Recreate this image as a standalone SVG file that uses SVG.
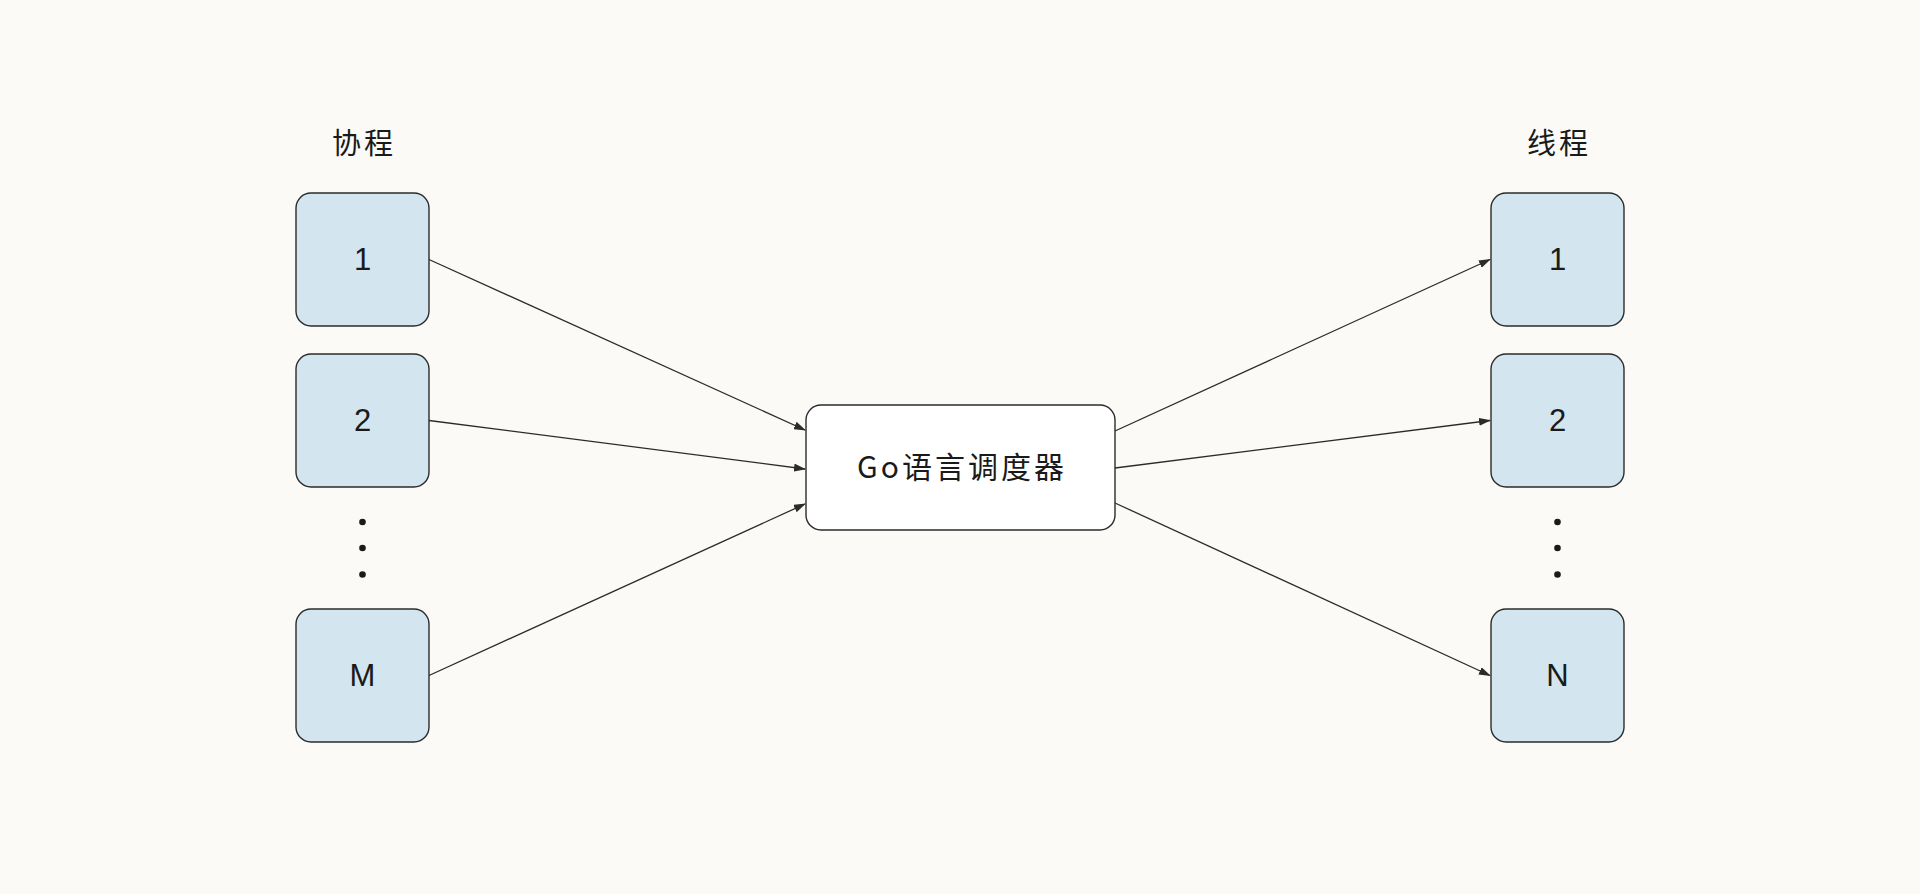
<svg xmlns="http://www.w3.org/2000/svg" width="1920" height="894" viewBox="0 0 1920 894">
  <style>
    .box { fill: #d3e5ee; stroke: #2b2b2b; stroke-width: 1.4; }
    .center { fill: #ffffff; stroke: #2b2b2b; stroke-width: 1.4; }
    .lbl { font-family: "Liberation Sans", "Noto Sans CJK SC", sans-serif; font-size: 31px; fill: #1a1a1a; text-anchor: middle; }
    .cjk { font-family: "Noto Sans CJK SC", "Liberation Sans", sans-serif; font-size: 29px; fill: #1a1a1a; text-anchor: middle; letter-spacing: 3px; }
    .dot { fill: #1a1a1a; }
    .edge { stroke: #2b2b2b; stroke-width: 1.3; fill: none; marker-end: url(#arrow); }
  </style>
  <defs>
    <marker id="arrow" markerWidth="12" markerHeight="8" refX="11" refY="4" orient="auto" markerUnits="userSpaceOnUse">
      <path d="M0,0 L12,4 L0,8 Z" fill="#2b2b2b"/>
    </marker>
  </defs>
  <rect width="1920" height="894" fill="#fbfaf7"/>

  <g id="title-left"><text class="cjk" x="364" y="154">协程</text></g>
  <g id="title-right"><text class="cjk" x="1559" y="154">线程</text></g>

  <g id="g1"><rect class="box" x="296" y="193" width="133" height="133" rx="15"/><text class="lbl" x="362.5" y="270">1</text></g>
  <g id="g2"><rect class="box" x="296" y="354" width="133" height="133" rx="15"/><text class="lbl" x="362.5" y="431">2</text></g>
  <g id="gdots"><circle class="dot" cx="362.5" cy="522" r="3.3"/><circle class="dot" cx="362.5" cy="548" r="3.3"/><circle class="dot" cx="362.5" cy="574.5" r="3.3"/></g>
  <g id="gM"><rect class="box" x="296" y="609" width="133" height="133" rx="15"/><text class="lbl" x="362.5" y="686">M</text></g>

  <g id="sched"><rect class="center" x="806" y="405" width="309" height="125" rx="15"/><text class="cjk" x="962" y="478" style="font-size:30px">Go语言调度器</text></g>

  <g id="t1"><rect class="box" x="1491" y="193" width="133" height="133" rx="15"/><text class="lbl" x="1557.5" y="270">1</text></g>
  <g id="t2"><rect class="box" x="1491" y="354" width="133" height="133" rx="15"/><text class="lbl" x="1557.5" y="431">2</text></g>
  <g id="tdots"><circle class="dot" cx="1557.5" cy="522" r="3.3"/><circle class="dot" cx="1557.5" cy="548" r="3.3"/><circle class="dot" cx="1557.5" cy="574.5" r="3.3"/></g>
  <g id="tN"><rect class="box" x="1491" y="609" width="133" height="133" rx="15"/><text class="lbl" x="1557.5" y="686">N</text></g>

  <g id="connectors">
    <line class="edge" x1="429" y1="259.5" x2="805" y2="430"/>
    <line class="edge" x1="429" y1="420.5" x2="805" y2="469"/>
    <line class="edge" x1="429" y1="675.5" x2="805" y2="504"/>
    <line class="edge" x1="1115" y1="431" x2="1490" y2="259.5"/>
    <line class="edge" x1="1115" y1="468" x2="1490" y2="420.5"/>
    <line class="edge" x1="1115" y1="503" x2="1490" y2="675.5"/>
  </g>
</svg>
